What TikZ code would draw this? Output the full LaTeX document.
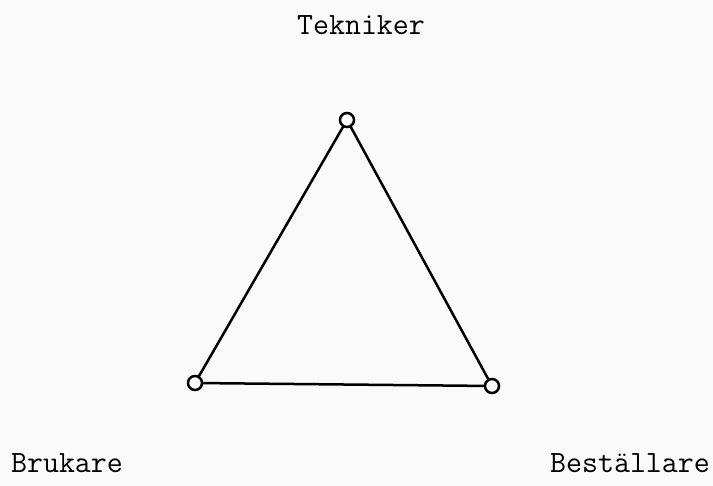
\documentclass[tikz,border=0pt]{standalone}
\usepackage{fontspec}
\begin{document}
\begin{tikzpicture}[x=1pt,y=-1pt,
  vert/.style={circle,draw,line width=2.5pt,minimum size=14pt,inner sep=0pt,fill=white},
  edge/.style={line width=2.5pt},
  lbl/.style={font=\ttfamily\fontsize{31}{34}\selectfont,text=black,inner sep=0pt,anchor=base}]
\fill[black!2] (0,0) rectangle (713,486);
\useasboundingbox (0,0) rectangle (713,486);
\coordinate (T) at (347,120);
\coordinate (L) at (195,383);
\coordinate (R) at (492,386);
\draw[edge] (T) -- (L) -- (R) -- cycle;
\node[vert] (t) at (T) {};
\node[vert] (l) at (L) {};
\node[vert] (r) at (R) {};
\node[lbl] (tek) at (361,35) {Tekniker};
\node[lbl] (bru) at (67,473) {Brukare};
\node[lbl] (bes) at (630,473) {Beställare};
\end{tikzpicture}
\end{document}
